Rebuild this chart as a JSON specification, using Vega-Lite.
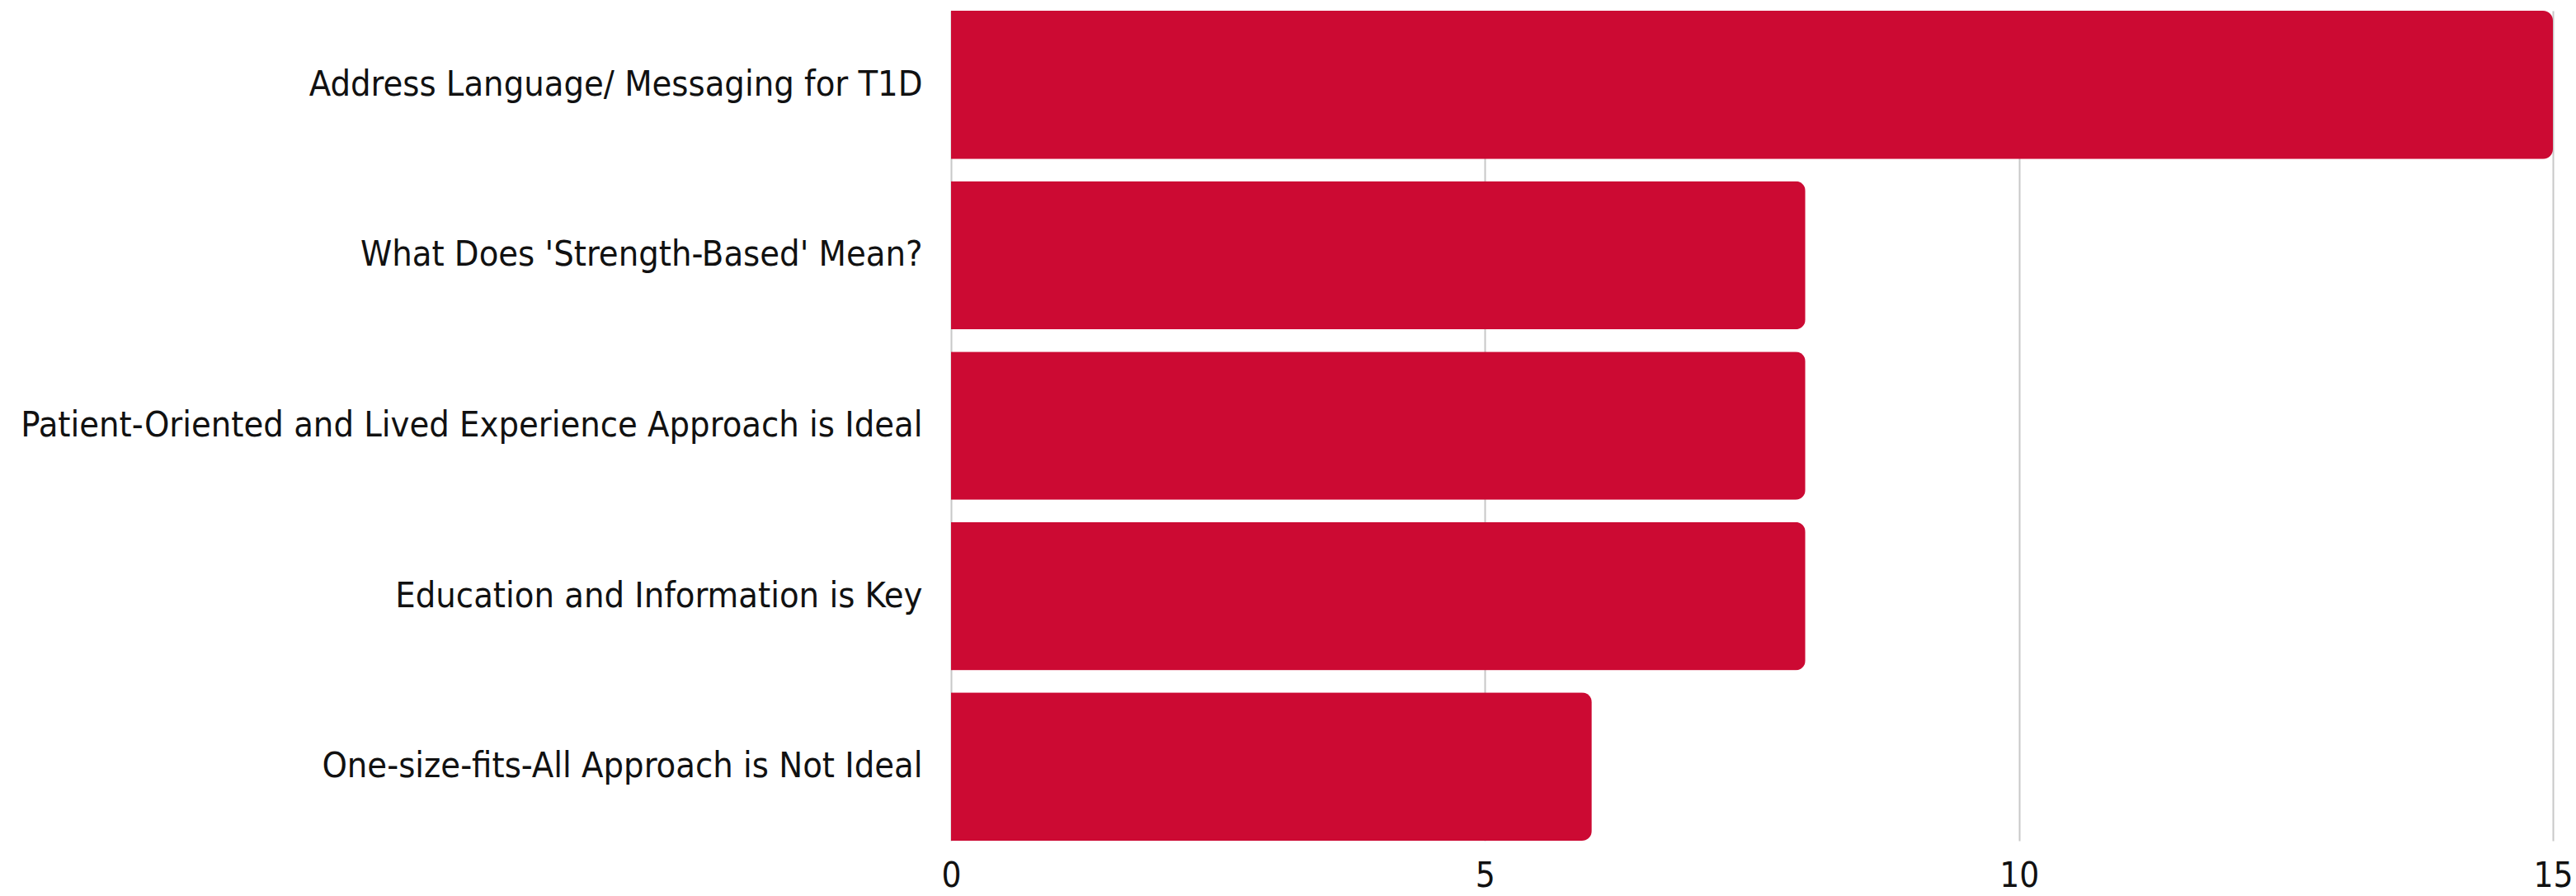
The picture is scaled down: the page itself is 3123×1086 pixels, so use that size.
{
  "$schema": "https://vega.github.io/schema/vega-lite/v6.json",
  "autosize": {"type": "none"},
  "width": 1942,
  "height": 1006,
  "padding": {"left": 1153, "top": 13, "right": 28, "bottom": 67},
  "background": "white",
  "data": {"values": [
    {"theme": "Address Language/ Messaging for T1D", "count": 15},
    {"theme": "What Does 'Strength-Based' Mean?", "count": 8},
    {"theme": "Patient-Oriented and Lived Experience Approach is Ideal", "count": 8},
    {"theme": "Education and Information is Key", "count": 8},
    {"theme": "One-size-fits-All Approach is Not Ideal", "count": 6}
  ]},
  "mark": {"type": "bar", "color": "#CC0A33", "cornerRadiusEnd": 12},
  "encoding": {
    "y": {
      "field": "theme", "type": "nominal", "sort": null, "title": null,
      "scale": {"paddingInner": 0.13, "paddingOuter": 0},
      "axis": {"ticks": false, "domain": false, "labelPadding": 35, "labelFontSize": 43, "labelFont": "DejaVu Sans Condensed, sans-serif", "labelColor": "#111", "labelLimit": 2000}
    },
    "x": {
      "field": "count", "type": "quantitative", "title": null,
      "scale": {"domain": [0, 15], "nice": false},
      "axis": {"values": [0, 5, 10, 15], "ticks": false, "domain": false, "grid": true, "gridColor": "#c8c8c8", "gridWidth": 2, "labelPadding": 22, "labelFontSize": 42, "labelFont": "DejaVu Sans Condensed, sans-serif", "labelColor": "#111", "labelFlush": false}
    }
  },
  "config": {"view": {"stroke": null}}
}
